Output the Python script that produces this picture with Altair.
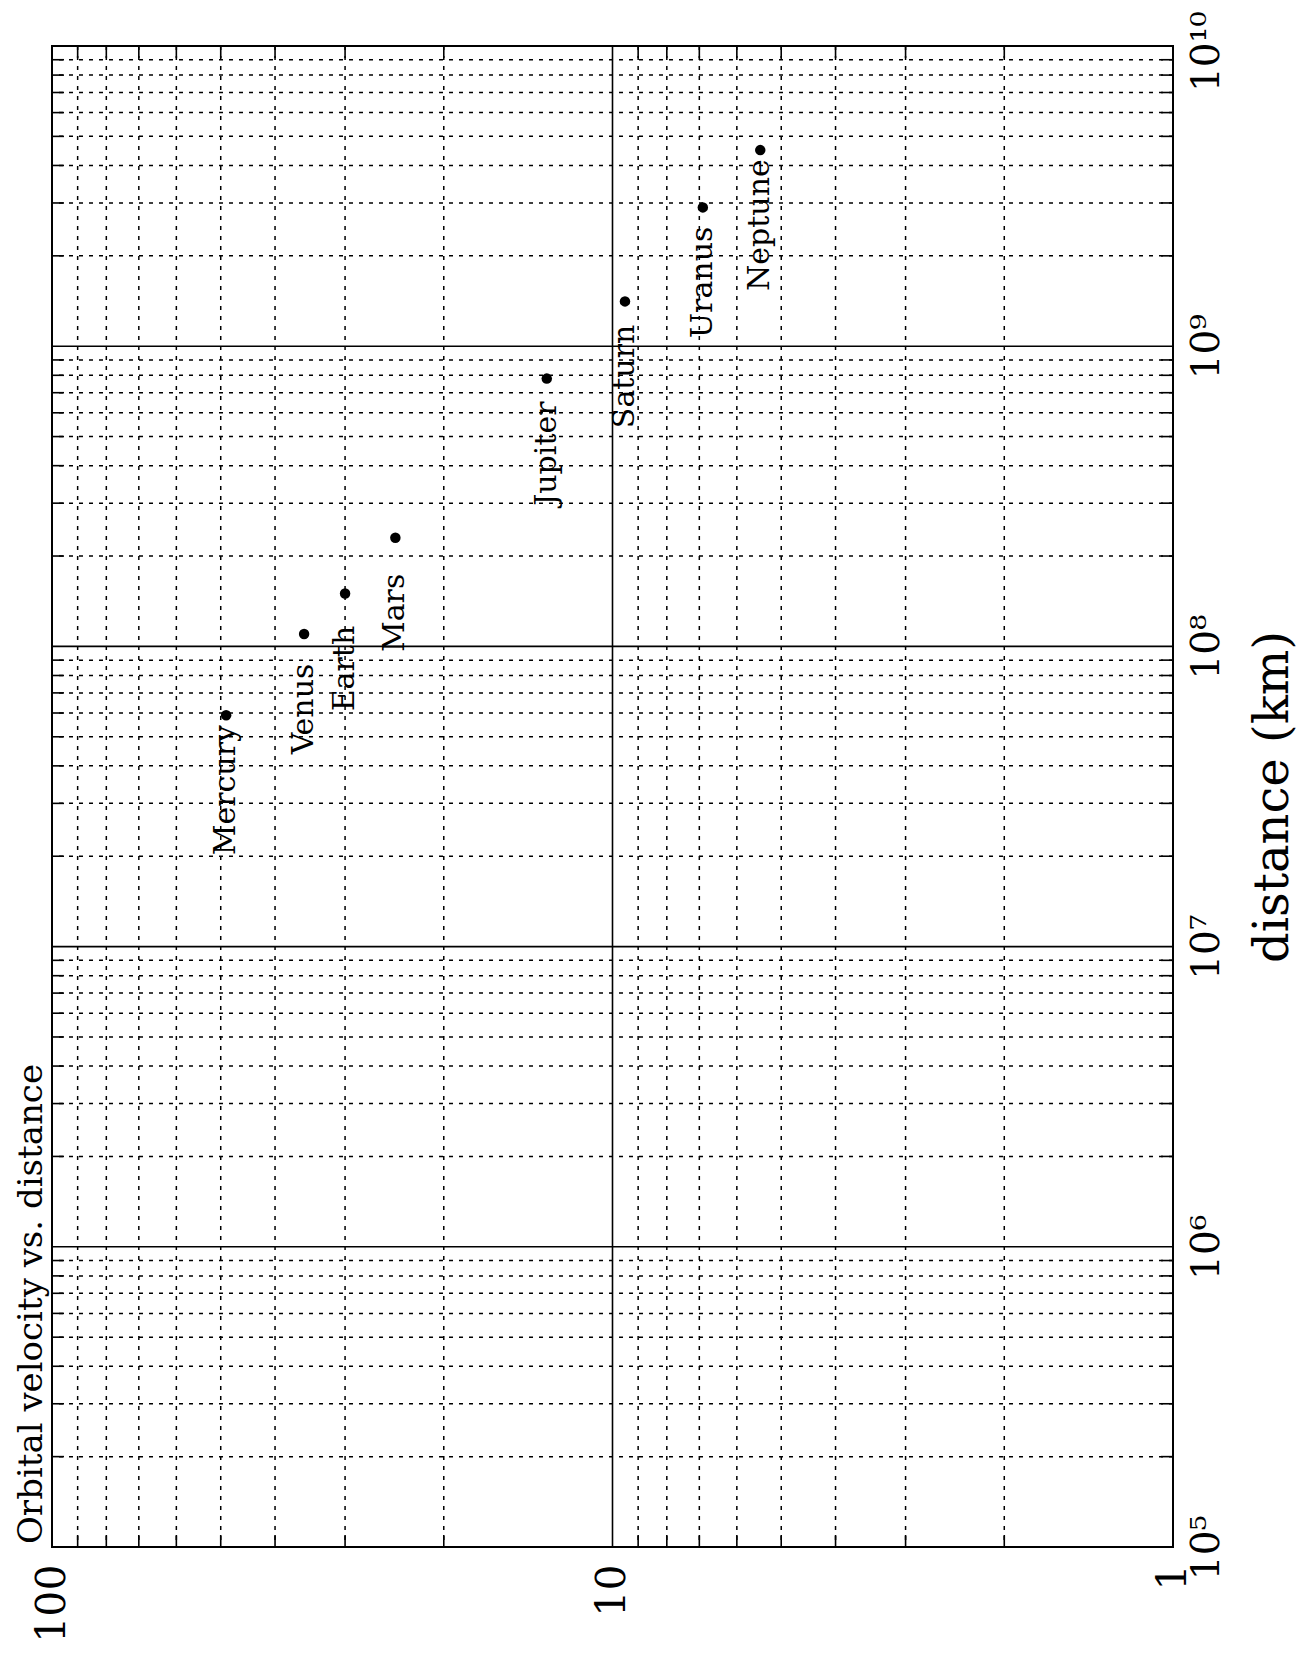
import altair as alt
import pandas as pd

# ---- data ----
planets = ["Mercury", "Venus", "Earth", "Mars", "Jupiter", "Saturn", "Uranus", "Neptune"]
velocity = [48.9, 35.5, 30.0, 24.4, 13.1, 9.5, 6.9, 5.45]          # km/s
distance = [5.9e7, 1.1e8, 1.5e8, 2.3e8, 7.8e8, 1.41e9, 2.9e9, 4.5e9]  # km

vel_ticks = [1, 10, 100]
vel_labels = ["1", "10", "100"]
dist_ticks = [1e5, 1e6, 1e7, 1e8, 1e9, 1e10]
dist_labels = ["10⁵", "10⁶", "10⁷", "10⁸", "10⁹", "10¹⁰"]

vel_major = [10]
dist_major = [1e6, 1e7, 1e8, 1e9]
vel_minor = [k * 10 ** e for e in (0, 1) for k in range(2, 10)]
dist_minor = [k * 10.0 ** e for e in range(5, 10) for k in range(2, 10)]

title_text = "Orbital velocity vs. distance"

W, H = 1121, 1501
FONT = "DejaVu Serif"

df = pd.DataFrame({"planet": planets, "v": velocity, "d": distance})
vmin = pd.DataFrame({"v": vel_minor})
vmaj = pd.DataFrame({"v": vel_major})
dmin = pd.DataFrame({"d": dist_minor})
dmaj = pd.DataFrame({"d": dist_major})
tdf = pd.DataFrame({"t": [title_text]})

xs = alt.Scale(type="log", domain=[1, 100], reverse=True, nice=False)
ys = alt.Scale(type="log", domain=[1e5, 1e10], nice=False)


def chain(vals, labs):
    s = ""
    for v, l in zip(vals, labs):
        s += f"datum.value == {v:.0f} ? '{l}' : "
    return s + "''"


xaxis = alt.Axis(orient="bottom", values=vel_ticks, labelExpr=chain(vel_ticks, vel_labels),
                 grid=False, ticks=False, domain=False, title=None,
                 labelFont=FONT, labelFontSize=41, labelColor="black",
                 labelAngle=270, labelAlign="right", labelBaseline="middle",
                 labelPadding=17, labelFlush=False, labelOverlap=False)
yaxis = alt.Axis(orient="right", values=dist_ticks, labelExpr=chain(dist_ticks, dist_labels),
                 grid=False, ticks=False, domain=False,
                 title="distance (km)", titleFont=FONT, titleFontSize=48,
                 titleFontWeight="normal", titleColor="black", titleAngle=270,
                 titleAlign="center", titleBaseline="top", titleX=76, titleY=H / 2,
                 labelFont=FONT, labelFontSize=39, labelColor="black",
                 labelAngle=270, labelAlign="center", labelBaseline="top",
                 labelOffset={"condition": {"test": "datum.value >= 5000000000", "value": 5},
                              "value": 0},
                 labelPadding=14, labelFlush=False, labelOverlap=False)

X = lambda f: alt.X(f, type="quantitative", scale=xs, axis=xaxis)
Y = lambda f: alt.Y(f, type="quantitative", scale=ys, axis=yaxis)

dash = [4, 6]
grid_v = alt.Chart(vmin).mark_rule(color="black", strokeWidth=1.5, strokeDash=dash).encode(x=X("v"))
grid_h = alt.Chart(dmin).mark_rule(color="black", strokeWidth=1.5, strokeDash=dash).encode(y=Y("d"))
major_v = alt.Chart(vmaj).mark_rule(color="black", strokeWidth=1.6).encode(x=X("v"))
major_h = alt.Chart(dmaj).mark_rule(color="black", strokeWidth=1.6).encode(y=Y("d"))

tick_l = alt.Chart(dmin).mark_rule(color="black", strokeWidth=1.6).encode(
    y=Y("d"), x=alt.value(0), x2=alt.value(12))
tick_r = alt.Chart(dmin).mark_rule(color="black", strokeWidth=1.6).encode(
    y=Y("d"), x=alt.value(W - 12), x2=alt.value(W))
tick_t = alt.Chart(vmin).mark_rule(color="black", strokeWidth=1.6).encode(
    x=X("v"), y=alt.value(0), y2=alt.value(12))
tick_b = alt.Chart(vmin).mark_rule(color="black", strokeWidth=1.6).encode(
    x=X("v"), y=alt.value(H - 12), y2=alt.value(H))

points = alt.Chart(df).mark_circle(size=110, color="black", opacity=1).encode(x=X("v"), y=Y("d"))
labels = alt.Chart(df).mark_text(font=FONT, fontSize=30, color="black", angle=270,
                                 align="center", baseline="middle", dx=-75).encode(
    x=X("v"), y=Y("d"), text="planet:N")

title = alt.Chart(tdf).mark_text(font=FONT, fontSize=34, color="black", angle=270,
                                 align="left", baseline="alphabetic").encode(
    x=alt.value(-10), y=alt.value(H - 3), text="t:N")

chart = alt.layer(grid_v, grid_h, major_v, major_h, tick_l, tick_r, tick_t, tick_b,
                  points, labels, title).properties(
    width=W, height=H,
    autosize=alt.AutoSizeParams(type="none"),
    padding={"left": 44, "top": 38, "right": 129, "bottom": 99},
).configure_view(stroke="black", strokeWidth=2)

chart.save("out.html", embed_options={"renderer": "svg", "actions": False})
